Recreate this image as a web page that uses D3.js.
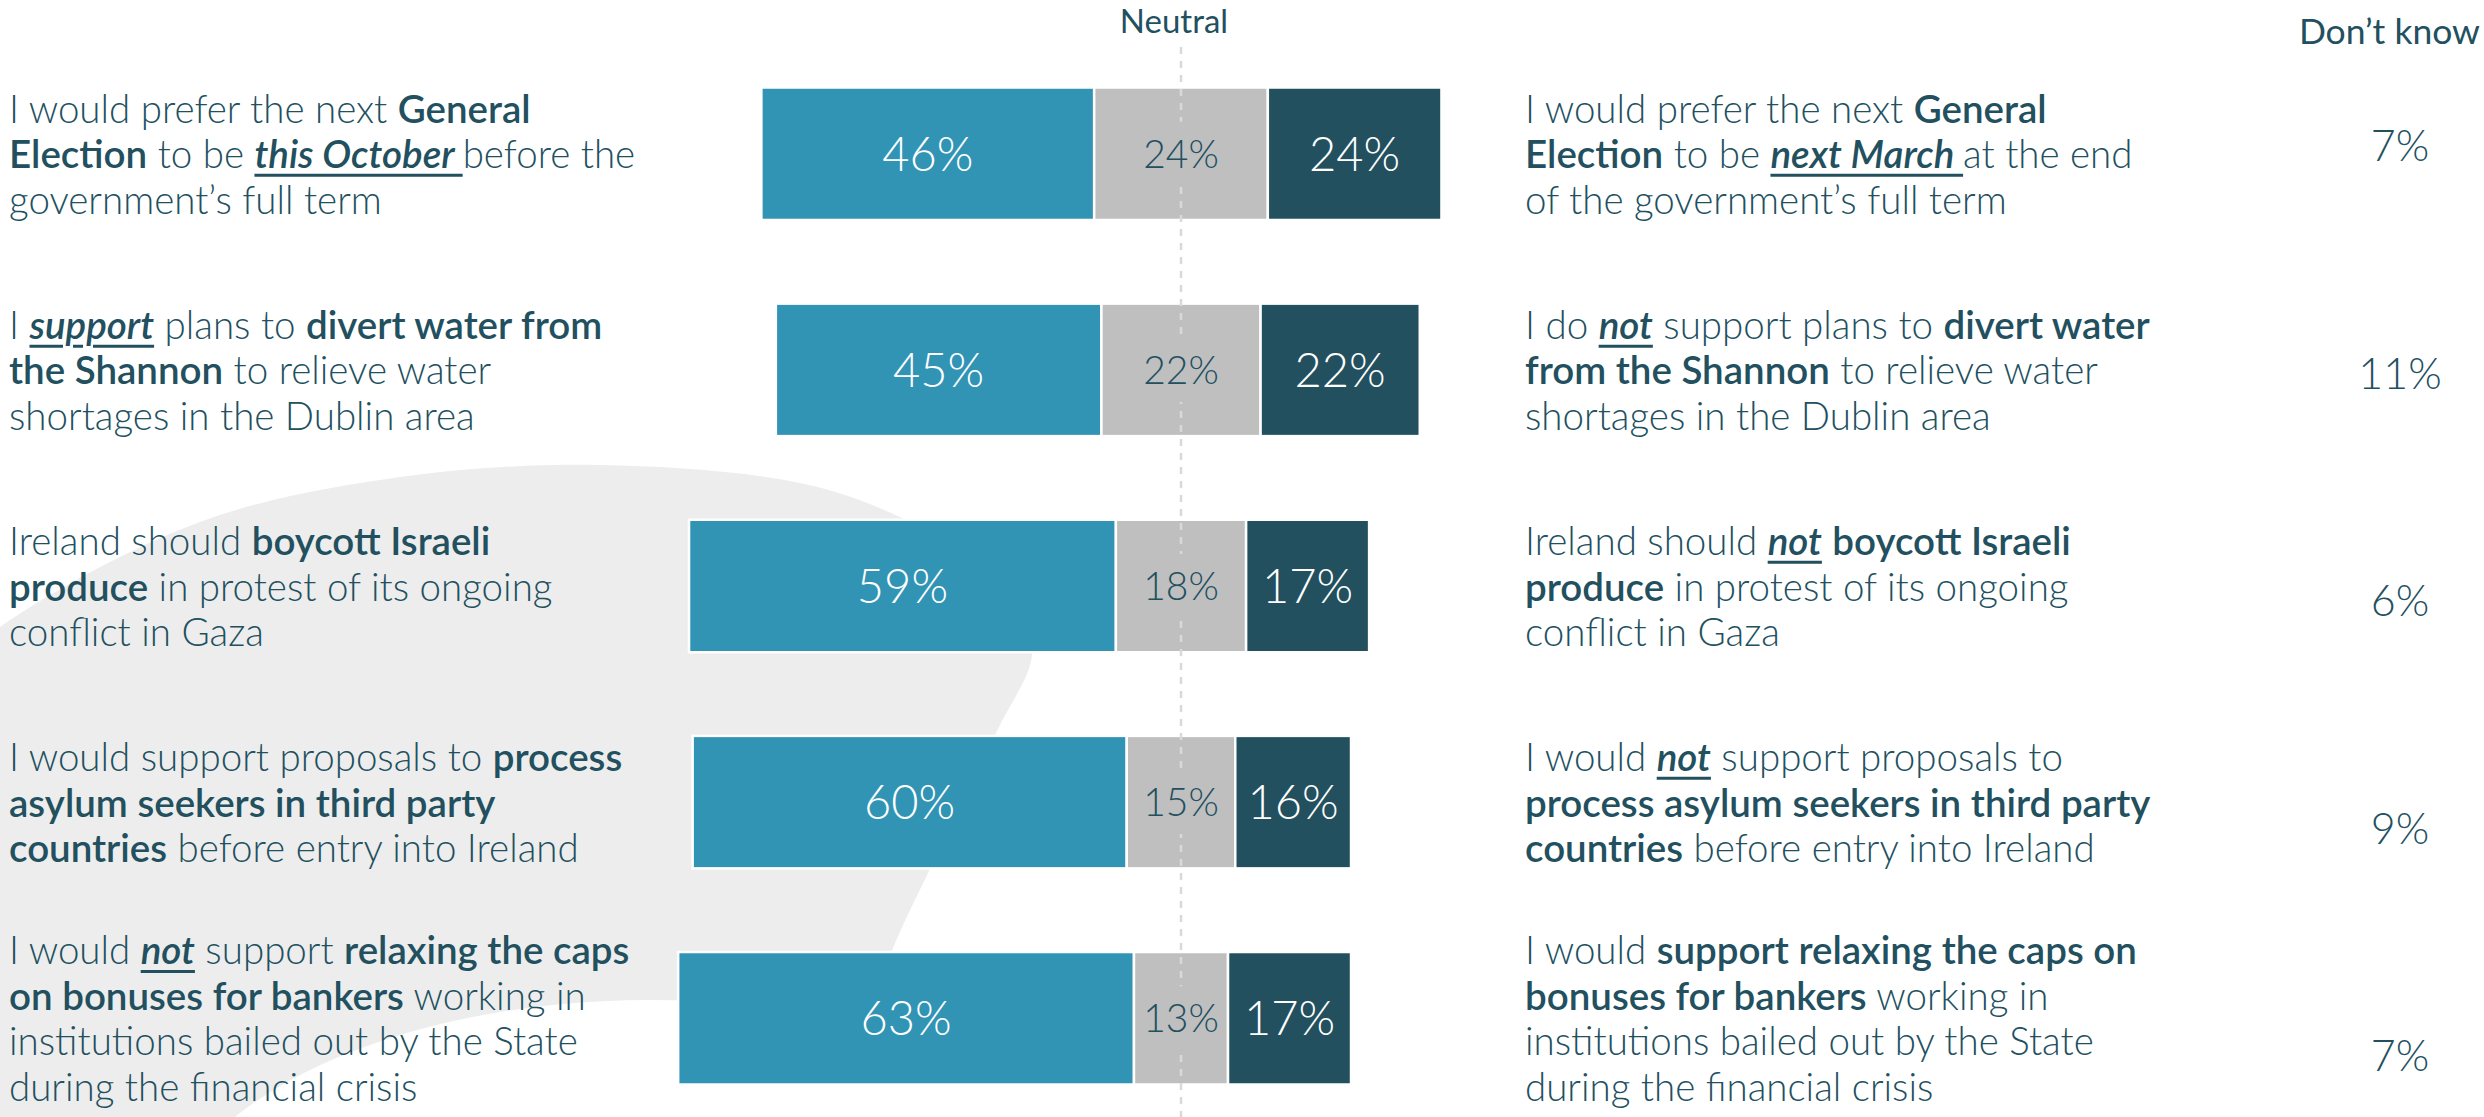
<!DOCTYPE html>
<html>
<head>
<meta charset="utf-8">
<script src="https://cdn.jsdelivr.net/npm/d3@7"></script>
<style>
  html, body { margin: 0; padding: 0; background: #fff; }
  #wrap { position: relative; width: 2484px; height: 1117px; overflow: hidden; font-family: Lato, "Open Sans", sans-serif; }
  #wrap svg { position: absolute; left: 0; top: 0; }
  .stmt { position: absolute; font-size: 38.5px; line-height: 45.5px; color: #22505f; font-weight: 300; white-space: nowrap; transform: translateY(-50%); }
  .stmt .em { font-weight: 600; }
  .stmt .emu { font-weight: 600; font-style: italic; text-decoration: underline; text-decoration-thickness: 3px; text-underline-offset: 6px; }
</style>
</head>
<body>
<div id="wrap"></div>
<script>
// Survey questions, one per row
const rows = ["election", "shannon", "boycott", "asylum", "bankers"];

// Share agreeing with the left-hand statement, neutral, and agreeing with the right-hand statement (%)
const positive = [46, 45, 59, 60, 63];
const neutral  = [24, 22, 18, 15, 13];
const negative = [24, 22, 17, 16, 17];
const dontKnow = [7, 11, 6, 9, 7];

// Statements, one line per entry; **bold** and __bold italic underlined__
const leftStatements = [
  ["I would prefer the next **General**", "**Election** to be __this October __before the", "government’s full term"],
  ["I __support__ plans to **divert water from**", "**the Shannon** to relieve water", "shortages in the Dublin area"],
  ["Ireland should **boycott Israeli**", "**produce** in protest of its ongoing", "conflict in Gaza"],
  ["I would support proposals to **process**", "**asylum seekers in third party**", "**countries** before entry into Ireland"],
  ["I would __not__ support **relaxing the caps**", "**on bonuses for bankers** working in", "institutions bailed out by the State", "during the financial crisis"]
];
const rightStatements = [
  ["I would prefer the next **General**", "**Election** to be __next March __at the end", "of the government’s full term"],
  ["I do __not__ support plans to **divert water**", "**from the Shannon** to relieve water", "shortages in the Dublin area"],
  ["Ireland should __not__ **boycott Israeli**", "**produce** in protest of its ongoing", "conflict in Gaza"],
  ["I would __not__ support proposals to", "**process asylum seekers in third party**", "**countries** before entry into Ireland"],
  ["I would **support relaxing the caps on**", "**bonuses for bankers** working in", "institutions bailed out by the State", "during the financial crisis"]
];

const neutralTitle = "Neutral";
const dontKnowTitle = "Don’t know";

const W = 2484, H = 1117;
const colors = { pos: "#3194b5", neu: "#bfbfbf", neg: "#23505f" };
const ink = "#22505f";

const wrap = d3.select("#wrap");
const svg = wrap.append("svg").attr("width", W).attr("height", H);

// Scales: diverging percentage axis centred on the neutral line
const x = d3.scaleLinear().domain([-100, 100]).range([1181 - 723.5, 1181 + 723.5]);
const y = d3.scaleBand().domain(rows).range([87.5, 1084.5]).paddingInner(0.387).paddingOuter(0);
const yDK = d3.scalePoint().domain(rows).range([146, 1056]);

// Decorative background swoosh
const swoosh = [[-80, 700], [0, 627], [200, 522], [400, 477], [600, 465], [800, 483], [900, 517],
  [975, 562], [1020, 612], [1032, 655], [997, 731], [930, 869], [893, 948], [845, 1080], [800, 1220], [300, 1260], [-80, 1220]];
svg.append("path")
  .attr("d", d3.line().curve(d3.curveCatmullRomClosed)(swoosh))
  .attr("fill", "#ededed");
svg.append("ellipse")
  .attr("cx", 650).attr("cy", 1250).attr("rx", 490).attr("ry", 250)
  .attr("fill", "#fff");

// Stacked segments
const segs = rows.flatMap((r, i) => [
  { row: r, key: "pos", x0: -(neutral[i] / 2 + positive[i]), x1: -neutral[i] / 2, v: positive[i] },
  { row: r, key: "neu", x0: -neutral[i] / 2, x1: neutral[i] / 2, v: neutral[i] },
  { row: r, key: "neg", x0: neutral[i] / 2, x1: neutral[i] / 2 + negative[i], v: negative[i] }
]);

svg.append("g").selectAll("rect").data(segs).join("rect")
  .attr("x", d => x(d.x0))
  .attr("y", d => y(d.row))
  .attr("width", d => x(d.x1) - x(d.x0))
  .attr("height", y.bandwidth())
  .attr("fill", d => colors[d.key])
  .attr("stroke", "#fff")
  .attr("stroke-width", 2.5);

// Neutral reference line
svg.append("line")
  .attr("x1", x(0)).attr("x2", x(0))
  .attr("y1", 47).attr("y2", H)
  .attr("stroke", "#d9d9d9").attr("stroke-width", 2.5)
  .attr("stroke-dasharray", "7,7");

// Clear the line behind the neutral labels
svg.append("g").selectAll("rect").data(rows).join("rect")
  .attr("x", x(0) - 4)
  .attr("y", r => y(r) + y.bandwidth() / 2 - 32)
  .attr("width", 8).attr("height", 64)
  .attr("fill", colors.neu);

// Segment labels
svg.append("g").selectAll("text").data(segs).join("text")
  .attr("x", d => (x(d.x0) + x(d.x1)) / 2)
  .attr("y", d => y(d.row) + y.bandwidth() / 2)
  .attr("dy", "0.36em")
  .attr("text-anchor", "middle")
  .attr("font-weight", 300)
  .attr("font-size", d => d.key === "neu" ? 39 : 47)
  .attr("fill", d => d.key === "neu" ? ink : "#fff")
  .text(d => d.v + "%");

// Column headers
svg.append("text")
  .attr("x", x(0) - 7).attr("y", 33)
  .attr("text-anchor", "middle")
  .attr("font-size", 33).attr("fill", ink)
  .text(neutralTitle);
svg.append("text")
  .attr("x", W - 4).attr("y", 44)
  .attr("text-anchor", "end")
  .attr("font-size", 35.5).attr("fill", ink)
  .text(dontKnowTitle);

// Don't know values
svg.append("g").selectAll("text").data(rows).join("text")
  .attr("x", 2400)
  .attr("y", r => yDK(r))
  .attr("dy", "0.36em")
  .attr("text-anchor", "middle")
  .attr("font-weight", 300)
  .attr("font-size", 43)
  .attr("fill", ink)
  .text((r, i) => dontKnow[i] + "%");

// Rich-text statements
function fillLine(sel, line) {
  line.split(/(\*\*[^*]+\*\*|__[^_]+__)/).filter(s => s.length).forEach(part => {
    if (part.startsWith("**")) sel.append("span").attr("class", "em").text(part.slice(2, -2));
    else if (part.startsWith("__")) sel.append("span").attr("class", "emu").text(part.slice(2, -2));
    else sel.append("span").text(part);
  });
}
function drawStatements(list, left) {
  wrap.selectAll(null).data(rows).join("div")
    .attr("class", "stmt")
    .style("left", left + "px")
    .style("top", r => (y(r) + y.bandwidth() / 2) + "px")
    .each(function (r, i) {
      const div = d3.select(this);
      list[i].forEach(line => fillLine(div.append("div"), line));
    });
}
drawStatements(leftStatements, 9);
drawStatements(rightStatements, 1525);
</script>
</body>
</html>
